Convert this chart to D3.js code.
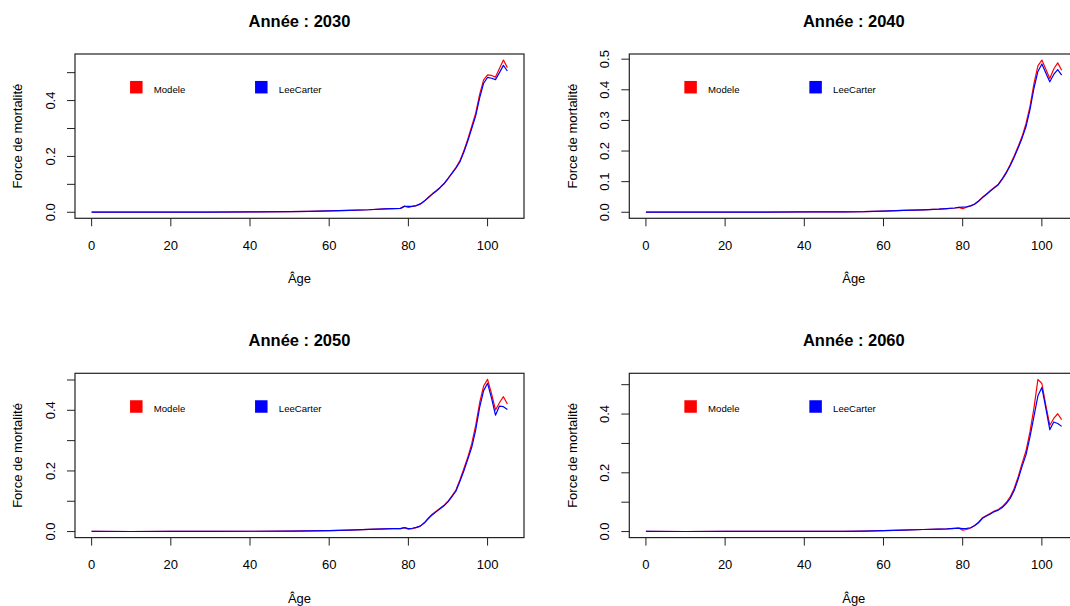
<!DOCTYPE html>
<html>
<head>
<meta charset="utf-8">
<script src="https://cdnjs.cloudflare.com/ajax/libs/d3/7.8.5/d3.min.js"></script>
<style>
  body { margin: 0; background: #fff; }
  text { font-family: "Liberation Sans", Arial, sans-serif; fill: #000; }
</style>
</head>
<body>
<div id="viz"></div>
<script>
// ages shared by every series (dense from 78 on, where the curve moves)
const ages = [0, 10, 20, 30, 40, 50, 55, 60, 65, 70, 74, 76,
  78, 79, 80, 81, 82, 83, 84, 85, 86, 87, 88, 89, 90, 91,
  92, 93, 94, 95, 96, 97, 98, 99, 100, 101, 102, 103, 104, 105];

const years = [2030, 2040, 2050, 2060];
const seriesNames = ['Modele', 'LeeCarter'];

// force de mortalité, one array per year and model
const modele2030 = [0.0005, 0.0002, 0.0006, 0.0008, 0.0015, 0.002, 0.003, 0.005, 0.007, 0.009, 0.012, 0.013,
  0.014, 0.022, 0.017, 0.021, 0.024, 0.029, 0.039, 0.053, 0.066, 0.077, 0.089, 0.103, 0.121, 0.140,
  0.160, 0.184, 0.220, 0.262, 0.308, 0.355, 0.422, 0.474, 0.492, 0.490, 0.484, 0.515, 0.545, 0.518];
const leecarter2030 = [0.0005, 0.0002, 0.0006, 0.0008, 0.0015, 0.002, 0.003, 0.005, 0.007, 0.009, 0.012, 0.013,
  0.014, 0.021, 0.021, 0.021, 0.024, 0.030, 0.040, 0.052, 0.064, 0.075, 0.088, 0.102, 0.120, 0.139,
  0.158, 0.180, 0.215, 0.255, 0.300, 0.345, 0.410, 0.462, 0.483, 0.480, 0.475, 0.500, 0.526, 0.506];

const modele2040 = [0.0005, 0.0002, 0.0005, 0.0007, 0.001, 0.0015, 0.002, 0.004, 0.006, 0.008, 0.010, 0.012,
  0.014, 0.016, 0.012, 0.017, 0.021, 0.027, 0.037, 0.049, 0.060, 0.071, 0.081, 0.092, 0.110, 0.131,
  0.156, 0.184, 0.215, 0.248, 0.290, 0.346, 0.420, 0.478, 0.497, 0.467, 0.437, 0.468, 0.488, 0.464];
const leecarter2040 = [0.0005, 0.0002, 0.0005, 0.0007, 0.001, 0.0015, 0.002, 0.004, 0.006, 0.008, 0.010, 0.012,
  0.014, 0.016, 0.017, 0.018, 0.021, 0.026, 0.036, 0.048, 0.058, 0.069, 0.080, 0.090, 0.108, 0.128,
  0.152, 0.180, 0.210, 0.242, 0.280, 0.335, 0.405, 0.460, 0.484, 0.455, 0.426, 0.450, 0.466, 0.448];

const modele2050 = [0.0005, 0.0002, 0.0005, 0.0006, 0.001, 0.0015, 0.002, 0.003, 0.005, 0.007, 0.009, 0.010,
  0.010, 0.013, 0.008, 0.010, 0.013, 0.018, 0.029, 0.044, 0.057, 0.067, 0.077, 0.087, 0.100, 0.118,
  0.137, 0.170, 0.207, 0.245, 0.290, 0.350, 0.425, 0.480, 0.502, 0.455, 0.401, 0.425, 0.445, 0.421];
const leecarter2050 = [0.0005, 0.0002, 0.0005, 0.0006, 0.001, 0.0015, 0.002, 0.003, 0.005, 0.007, 0.009, 0.010,
  0.010, 0.013, 0.010, 0.011, 0.014, 0.018, 0.028, 0.042, 0.055, 0.065, 0.075, 0.085, 0.098, 0.115,
  0.133, 0.165, 0.200, 0.238, 0.278, 0.335, 0.410, 0.465, 0.489, 0.440, 0.384, 0.414, 0.412, 0.403];

const modele2060 = [0.0005, 0.0002, 0.0004, 0.0005, 0.0008, 0.001, 0.0015, 0.003, 0.005, 0.007, 0.008, 0.009,
  0.011, 0.012, 0.005, 0.007, 0.012, 0.021, 0.032, 0.047, 0.055, 0.062, 0.070, 0.075, 0.085, 0.099,
  0.118, 0.147, 0.186, 0.232, 0.275, 0.340, 0.420, 0.518, 0.504, 0.430, 0.362, 0.385, 0.401, 0.381];
const leecarter2060 = [0.0005, 0.0002, 0.0004, 0.0005, 0.0008, 0.001, 0.0015, 0.003, 0.005, 0.007, 0.008, 0.009,
  0.011, 0.012, 0.010, 0.011, 0.013, 0.020, 0.030, 0.045, 0.053, 0.060, 0.068, 0.073, 0.082, 0.095,
  0.113, 0.140, 0.178, 0.222, 0.262, 0.322, 0.392, 0.462, 0.490, 0.420, 0.347, 0.373, 0.368, 0.358];

const modeleByYear = [modele2030, modele2040, modele2050, modele2060];
const leecarterByYear = [leecarter2030, leecarter2040, leecarter2050, leecarter2060];

// layout (R par(mfrow = c(2, 2)) look, picture is cropped on the right)
const width = 1070, height = 606;
const colStep = 554.3, rowStep = 319.3;
const boxLeft = 75, boxTop = 54;
const boxW = 449, boxH = 164.3;
const colors = ['#ff0000', '#0000ff'];
const minLabelSpacing = 30.45; // below this, R drops every other y label

const svg = d3.select('#viz').append('svg')
  .attr('width', width)
  .attr('height', height);

years.forEach((year, i) => {
  const col = i % 2, row = Math.floor(i / 2);
  const g = svg.append('g')
    .attr('transform', `translate(${boxLeft + col * colStep},${boxTop + row * rowStep})`);

  const series = [modeleByYear[i], leecarterByYear[i]];

  // R style scales: data range stretched by 4% on each side
  const xExt = d3.extent(ages);
  const xPad = (xExt[1] - xExt[0]) * 0.04;
  const x = d3.scaleLinear().domain([xExt[0] - xPad, xExt[1] + xPad]).range([0, boxW]);

  const yExt = d3.extent(series.flat());
  const yPad = (yExt[1] - yExt[0]) * 0.04;
  const y = d3.scaleLinear().domain([yExt[0] - yPad, yExt[1] + yPad]).range([boxH, 0]);

  // lines: model first, Lee-Carter drawn over it
  const line = d3.line()
    .x((d, k) => x(ages[k]))
    .y(d => y(d));

  series.forEach((vals, s) => {
    g.append('path')
      .datum(vals)
      .attr('d', line)
      .attr('fill', 'none')
      .attr('stroke', colors[s])
      .attr('stroke-width', 1.2)
      .attr('stroke-linejoin', 'round');
  });

  // box
  g.append('rect')
    .attr('width', boxW)
    .attr('height', boxH)
    .attr('fill', 'none')
    .attr('stroke', '#222')
    .attr('stroke-width', 1.2);

  // x axis
  x.ticks(6).filter(t => t >= 0).forEach(t => {
    g.append('line')
      .attr('x1', x(t)).attr('x2', x(t))
      .attr('y1', boxH).attr('y2', boxH + 8)
      .attr('stroke', '#222');
    g.append('text')
      .attr('x', x(t))
      .attr('y', boxH + 31.5)
      .attr('text-anchor', 'middle')
      .style('font-size', '13px')
      .text(t);
  });

  // y axis, labels parallel to the axis
  const step = y(0) - y(0.1);
  y.ticks(6).filter(t => t >= 0).forEach(t => {
    g.append('line')
      .attr('x1', -8).attr('x2', 0)
      .attr('y1', y(t)).attr('y2', y(t))
      .attr('stroke', '#222');
    const tenth = Math.round(t * 10);
    if (step >= minLabelSpacing || tenth % 2 === 0) {
      g.append('text')
        .attr('transform', `translate(-20.3,${y(t)}) rotate(-90)`)
        .attr('text-anchor', 'middle')
        .style('font-size', '13px')
        .text(d3.format('.1f')(t));
    }
  });

  // titles
  g.append('text')
    .attr('x', boxW / 2)
    .attr('y', -27)
    .attr('text-anchor', 'middle')
    .style('font-size', '16.5px')
    .style('font-weight', 'bold')
    .text(`Année : ${year}`);

  g.append('text')
    .attr('x', boxW / 2)
    .attr('y', boxH + 65)
    .attr('text-anchor', 'middle')
    .style('font-size', '13px')
    .text('Âge');

  g.append('text')
    .attr('transform', `translate(-52.7,${boxH / 2}) rotate(-90)`)
    .attr('text-anchor', 'middle')
    .style('font-size', '13px')
    .text('Force de mortalité');

  // legend (horizontal, no frame)
  const legendX = [61.3, 186.3];
  seriesNames.forEach((name, s) => {
    g.append('rect')
      .attr('x', legendX[s] - 6.25)
      .attr('y', 33.2 - 6.25)
      .attr('width', 12.5)
      .attr('height', 12.5)
      .attr('fill', colors[s]);
    g.append('text')
      .attr('x', legendX[s] + 17.5)
      .attr('y', 39)
      .style('font-size', '9.6px')
      .text(name);
  });
});
</script>
</body>
</html>
